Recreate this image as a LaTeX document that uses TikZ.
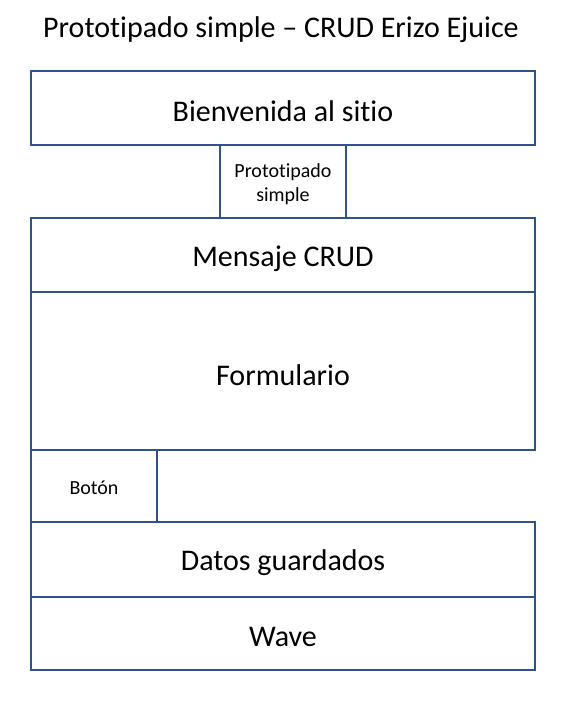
\documentclass[tikz,border=0pt]{standalone}
\usepackage{fontspec}
\setmainfont[Ligatures=NoCommon]{Carlito}
\definecolor{boxblue}{HTML}{2F528F}
\begin{document}
\begin{tikzpicture}[x=1pt,y=-1pt,
  box/.style={draw=boxblue,line width=2pt,fill=white},
  big/.style={font=\fontsize{30}{34}\selectfont},
  small/.style={font=\fontsize{20}{24}\selectfont,align=center}]
\useasboundingbox (0,0) rectangle (561,707);
\fill[white] (0,0) rectangle (561,707);
\node[font=\fontsize{30}{34}\selectfont] (title) at (281,30) {Prototipado simple – CRUD Erizo Ejuice};
\draw[box] (31,71) rectangle (535,145);
\node[big] (bien) at (283,111) {Bienvenida al sitio};
\draw[box] (220,145) rectangle (346,218);
\node[small] (proto) at (283,184) {Prototipado\\simple};
\draw[box] (31,218) rectangle (535,292);
\node[big] (msg) at (283,259) {Mensaje CRUD};
\draw[box] (31,292) rectangle (535,450);
\node[big] (form) at (283,375) {Formulario};
\draw[box] (31,450) rectangle (157,522);
\node[small] (boton) at (94,488) {Botón};
\draw[box] (31,522) rectangle (535,597);
\node[big] (datos) at (283,563) {Datos guardados};
\draw[box] (31,597) rectangle (535,670);
\node[big] (wave) at (283,637) {Wave};
\end{tikzpicture}
\end{document}
